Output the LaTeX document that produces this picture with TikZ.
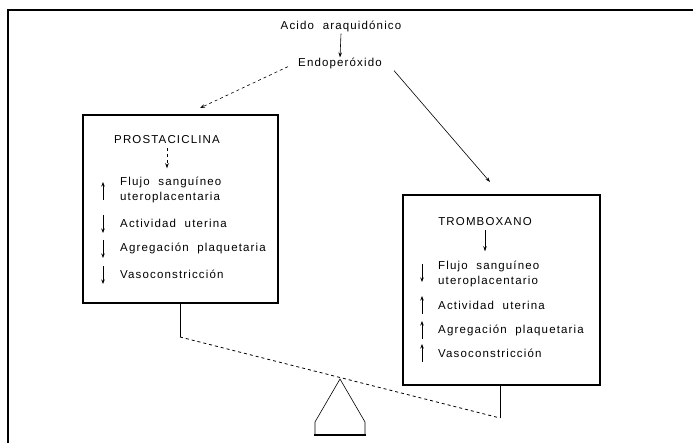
\documentclass[tikz,border=0pt]{standalone}
\usepackage{fontspec}
\setmainfont[LetterSpace=10]{Liberation Sans}
\usetikzlibrary{arrows.meta}
\begin{document}
\begin{tikzpicture}[x=1pt,y=-1pt,
  lbl/.style={font=\fontsize{11.5}{12}\selectfont, inner sep=0pt},
  item/.style={lbl, anchor=west, align=left},
  box/.style={draw, line width=1.8pt, minimum width=#1, inner sep=0pt},
  arr/.style={-{Stealth[length=5pt,width=3.5pt]}, line width=0.6pt},
  tick/.style={-{Stealth[length=4.5pt,width=3.5pt]}, line width=0.8pt}]
\useasboundingbox (0,0) rectangle (693,443);
% frame
\draw[line width=1.5pt] (693,10) -- (8,10) -- (8,443);
% top texts
\node[lbl] (acido) at (341,26) {Acido\ \ araquidónico};
\node[lbl] (endo) at (340,63) {Endoperóxido};
\draw[arr] (acido.south) ++(0,2) coordinate (a1) (a1) -- (endo.north);
\coordinate (ldst) at (200,108);
\coordinate (rdst) at (490,182);
\draw[arr, dashed] (endo.south west) ++(-10,-2) coordinate (d1) (d1) -- (ldst);
\draw[arr] (endo.south east) ++(12,2) coordinate (d2) (d2) -- (rdst);
% left box
\node[box=195pt, minimum height=188pt] (lbox) at (180.5,209) {};
\node[lbl] (pros) at (167,140) {PROSTACICLINA};
\draw[arr, dashed] (pros.south) ++(0,4) coordinate (p1) (p1) -- ++(0,20) coordinate (p2);
\node[item] (l1) at (120,190) {Flujo\ \ sanguíneo\\[3pt]uteroplacentaria};
\node[item] (l2) at (120,223) {Actividad\ \ uterina};
\node[item] (l3) at (120,248) {Agregación\ \ plaquetaria};
\node[item] (l4) at (120,274) {Vasoconstricción};
\draw[tick] (103,200) -- (103,182);
\draw[tick] (103,215) -- (103,233);
\draw[tick] (103,240) -- (103,258);
\draw[tick] (103,266) -- (103,284);
% right box
\node[box=197pt, minimum height=190pt] (rbox) at (501.5,290) {};
\node[lbl] (trom) at (485,222) {TROMBOXANO};
\draw[arr] (trom.south) ++(0,4) coordinate (t1) (t1) -- ++(0,21) coordinate (t2);
\node[item] (r1) at (438,274) {Flujo\ \ sanguíneo\\[3pt]uteroplacentario};
\node[item] (r2) at (438,305) {Actividad\ \ uterina};
\node[item] (r3) at (438,330) {Agregación\ \ plaquetaria};
\node[item] (r4) at (438,353) {Vasoconstricción};
\draw[tick] (422,264) -- (422,282);
\draw[tick] (422,314) -- (422,296);
\draw[tick] (422,339) -- (422,321);
\draw[tick] (422,362) -- (422,344);
% balance
\coordinate (bl) at (180,337);
\coordinate (br) at (500,418);
\draw[line width=0.6pt] (lbox.south -| bl) -- (bl);
\draw[line width=0.6pt] (rbox.south -| br) -- (br);
\draw[dashed, line width=0.8pt] (bl) -- (br);
\coordinate (apex) at (340,379);
\draw[line width=0.6pt] (315,435) -- (315,422) -- (apex) -- (365,422) -- (365,435);
\draw[line width=1.8pt] (314,435) -- (366,435);
\end{tikzpicture}
\end{document}
